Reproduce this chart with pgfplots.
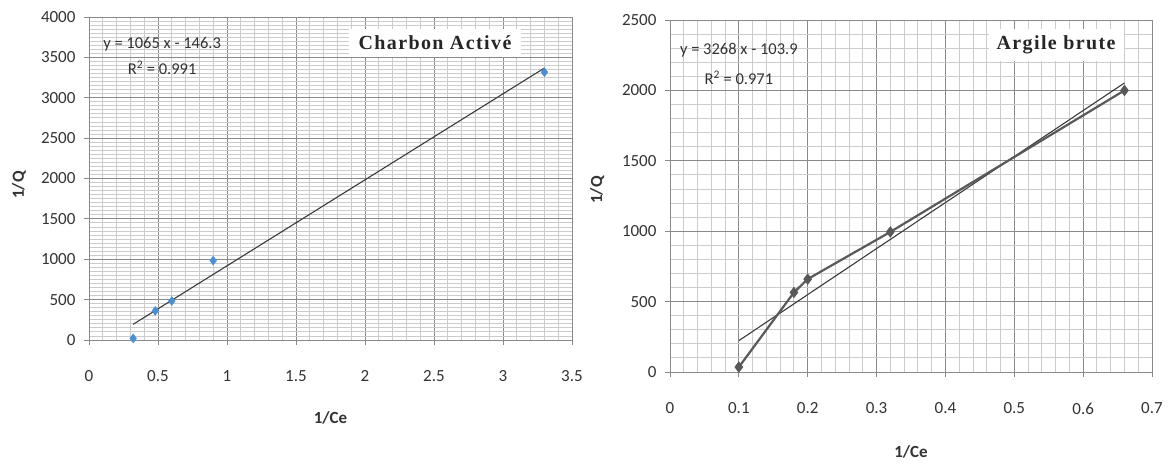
\documentclass[border=0pt]{standalone}
\usepackage{fontspec}
\setmainfont{Carlito}
\newfontfamily\titlefont[LetterSpace=7]{Liberation Serif}
\usepackage{pgfplots}
\pgfplotsset{compat=1.18}
\definecolor{ticktext}{HTML}{333333}
\definecolor{majgrid}{HTML}{8A8A8A}
\definecolor{mingrid}{HTML}{CCCCCC}
\definecolor{ptblue}{HTML}{4A8FD6}
\definecolor{darkline}{HTML}{3A3A3A}
\definecolor{dataline}{HTML}{595959}
\pgfplotsset{
  excel/.style={
    scale only axis,
    axis line style={draw=majgrid, line width=0.9pt},
    grid=both,
    major grid style={draw=majgrid, line width=0.9pt},
    minor grid style={draw=mingrid, line width=0.9pt},
    tick align=outside,
    major tick length=5pt,
    minor tick length=0pt,
    xtick pos=bottom, ytick pos=left,
    tick style={draw=majgrid, line width=0.9pt},
    ticklabel style={font=\fontsize{17}{20}\selectfont, text=ticktext},
    /pgf/number format/assume math mode=true,
    /pgf/number format/1000 sep={},
    xticklabel style={yshift=-22pt},
    yticklabel style={xshift=-5pt},
    label style={font=\bfseries\fontsize{17}{20}\selectfont, text=ticktext},
    clip=false,
  }
}
\begin{document}
\begin{tikzpicture}
\path[use as bounding box] (0,0) rectangle (1168pt,467pt);
% ---------- Left chart ----------
\begin{axis}[excel,
  at={(89pt,127pt)}, anchor=south west,
  width=483pt, height=323pt,
  xmin=0, xmax=3.5, ymin=0, ymax=4000,
  xtick={0,0.5,...,3.5}, ytick={0,500,...,4000},
  minor x tick num=4, minor y tick num=9,
  xticklabels={0,0.5,1,1.5,2,2.5,3,3.5},
  xlabel={1/Ce}, ylabel={1/Q},
  xlabel style={at={(axis description cs:0.5,-0.2415)}, anchor=center},
  ylabel style={at={(axis description cs:-0.145,0.48)}, anchor=center},
]
\addplot[no marks, draw=darkline, line width=1.1pt] coordinates {(0.32,194.5) (3.3,3368.2)};
\addplot[only marks, mark=diamond*, mark size=4.5pt, color=ptblue] coordinates {
  (0.32,20) (0.48,360) (0.6,483) (0.9,983) (3.3,3317)};
\node[font=\fontsize{16.5}{19}\selectfont, text=ticktext] at (axis cs:0.53,3666) {y = 1065 x - 146.3};
\node[font=\fontsize{16.5}{19}\selectfont, text=ticktext] at (axis cs:0.53,3368) {R\textsuperscript{2} = 0.991};
\node[fill=white, inner xsep=10pt, inner ysep=7pt, font=\titlefont\bfseries\fontsize{20}{24}\selectfont, text=black!85] at (axis cs:2.507,3678) {Charbon Activé};
\end{axis}
% ---------- Right chart ----------
\begin{axis}[excel,
  at={(670pt,95pt)}, anchor=south west,
  width=482pt, height=352pt,
  xmin=0, xmax=0.7, ymin=0, ymax=2500,
  xtick={0,0.1,0.2,0.3,0.4,0.5,0.6,0.7}, ytick={0,500,...,2500},
  xticklabels={0,0.1,0.2,0.3,0.4,0.5,0.6,0.7},
  minor x tick num=4, minor y tick num=4,
  xlabel={1/Ce}, ylabel={1/Q},
  xlabel style={at={(axis description cs:0.5,-0.227)}, anchor=center},
  ylabel style={at={(axis description cs:-0.151,0.517)}, anchor=center},
]
\addplot[no marks, draw=darkline, line width=1.1pt] coordinates {(0.1,222.9) (0.66,2053)};
\addplot[line width=2.2pt, color=dataline, mark=diamond*, mark size=4pt] coordinates {
  (0.1,35) (0.18,565) (0.2,660) (0.32,995) (0.66,2000)};
\node[font=\fontsize{16.5}{19}\selectfont, text=ticktext] at (axis cs:0.1,2287) {y = 3268 x - 103.9};
\node[font=\fontsize{16.5}{19}\selectfont, text=ticktext] at (axis cs:0.1,2088) {R\textsuperscript{2} = 0.971};
\node[fill=white, inner xsep=8pt, inner ysep=7pt, font=\titlefont\bfseries\fontsize{20}{24}\selectfont, text=black!85] at (axis cs:0.5606,2322) {Argile brute};
\end{axis}
\end{tikzpicture}
\end{document}
